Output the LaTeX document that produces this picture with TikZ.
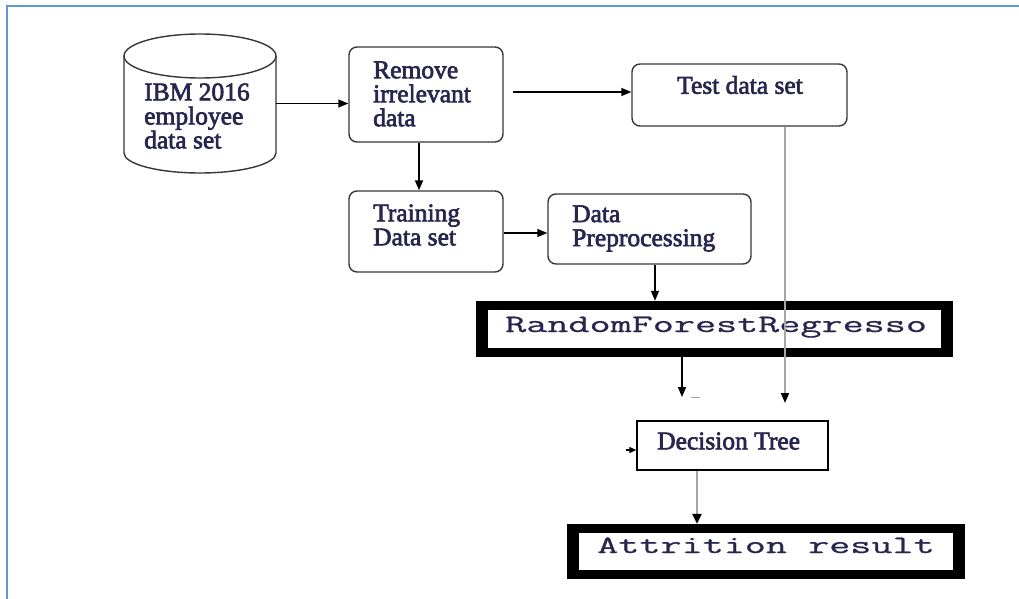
\documentclass[tikz,border=0pt]{standalone}
\usepackage{fontspec}
\usepackage{graphicx}
\setmainfont{Liberation Serif}
\newfontfamily\semiserif{Liberation Serif}[FakeBold=2.5]
\newfontfamily\monof{Latin Modern Mono}[FakeBold=0.6]
\usetikzlibrary{arrows.meta,calc}
\definecolor{txtcol}{RGB}{38,38,78}
\definecolor{boxgray}{RGB}{55,55,55}
\definecolor{frameblue}{RGB}{91,155,213}
\definecolor{lgray}{RGB}{165,165,165}
\newcommand{\monoText}[1]{\monof\fontsize{25}{25}\selectfont\scalebox{1.638}[1]{#1}}
\begin{document}
\begin{tikzpicture}[x=1pt,y=-1pt,
  rbox/.style={draw=boxgray, line width=1.4pt, rounded corners=8pt, inner sep=0pt},
  sbox/.style={draw=black, line width=1.4pt, inner sep=0pt},
  txt/.style={font=\semiserif\fontsize{25.5}{24}\selectfont, text=txtcol, align=left, inner sep=0pt},
  mono/.style={text=txtcol, inner sep=0pt},
  arr/.style={line width=1.4pt, draw=black, -{Triangle[length=10pt,width=8pt]}},
  smallarr/.style={line width=1.2pt, draw=black, -{Triangle[length=7pt,width=6pt]}},
  garr/.style={line width=1.8pt, draw=lgray, -{Triangle[length=10pt,width=8pt,color=black]}},
  garrw/.style={line width=2.6pt, draw=lgray, -{Triangle[length=10pt,width=9pt,color=black]}},
  thickframe/.style={fill=black, inner sep=0pt},
  innerwhite/.style={fill=white, inner sep=0pt}
]
\useasboundingbox (0,0) rectangle (1019,599);
\fill[white] (0,0) rectangle (1019,599);
% frame
\draw[frameblue, line width=2pt] (7,599) -- (7,6.5) -- (1019,6.5);

% cylinder
\node[minimum width=152pt, minimum height=139pt, inner sep=0pt] (cyl) at (200,103.5) {};
\draw[boxgray, line width=1.4pt] (124,56) -- (124,153) arc[start angle=180, end angle=0, x radius=76, y radius=20] -- (276,56);
\draw[boxgray, line width=1.4pt] (200,56) ellipse[x radius=76, y radius=22];
\node[txt, anchor=west] (cyltxt) at (144,116) {IBM 2016\\employee\\data set};

% boxes
\node[rbox, minimum width=154pt, minimum height=95pt] (remove) at (426,94.5) {};
\node[txt, anchor=west] (removeT) at (373,94) {Remove\\irrelevant\\data};

\node[rbox, minimum width=154pt, minimum height=81pt] (training) at (426,231.5) {};
\node[txt, anchor=west] (trainingT) at (373,225) {Training\\Data set};

\node[rbox, minimum width=215pt, minimum height=62pt] (test) at (739.5,95) {};
\node[txt] (testT) at (740,85) {Test data set};

\node[rbox, minimum width=203pt, minimum height=70pt] (dp) at (649.5,229) {};
\node[txt, anchor=west] (dpT) at (572,228.5) {Data\\Preprocessing};

% RandomForest box
\node[thickframe, minimum width=477pt, minimum height=56pt] (rf) at (714.5,329) {};
\node[innerwhite, minimum width=453pt, minimum height=38pt] (rfin) at (714.5,329) {};
\node[mono, anchor=base west] (rfT) at (505,332) {\monoText{RandomForestRegresso}};

% Decision tree
\node[sbox, minimum width=191pt, minimum height=49pt] (dt) at (732.5,445.5) {};
\node[txt, anchor=west] (dtT) at (657,441) {Decision Tree};

% Attrition box
\node[thickframe, minimum width=398pt, minimum height=55pt] (attr) at (766,551.5) {};
\node[innerwhite, minimum width=374pt, minimum height=37pt] (attrin) at (766,551.5) {};
\node[mono, anchor=base west] (attrT) at (597,553) {\monoText{Attrition result}};

% connectors
\draw[arr] (cyl.east) -- (cyl.east -| remove.west);
\draw[arr, line width=1.8pt] ([xshift=-7pt]remove.south) -- ([xshift=-7pt]training.north);
\draw[arr] ([shift={(9,-2.5)}]remove.east) coordinate (rt) -- (rt -| test.west);
\draw[arr] ([shift={(0,1.5)}]training.east) coordinate (tp) -- (tp -| dp.west);
\draw[arr] ([xshift=5.5pt]dp.south) coordinate (dr) -- (dr |- rf.north);

\coordinate (tend) at (785,403);
\draw[garr] (test.south -| tend) -- (tend);

\coordinate (rfend) at (682,397);
\draw[arr] (rf.south -| rfend) -- (rfend);
\draw[lgray, line width=1pt] ([shift={(9,0.5)}]rfend) -- ([shift={(18,0.5)}]rfend);

\draw[smallarr] ([shift={(-10,4.5)}]dt.west) -- ([shift={(0,4.5)}]dt.west);
\draw[garrw] ([xshift=-35.5pt]dt.south) coordinate (da) -- (da |- attr.north);
\end{tikzpicture}
\end{document}
